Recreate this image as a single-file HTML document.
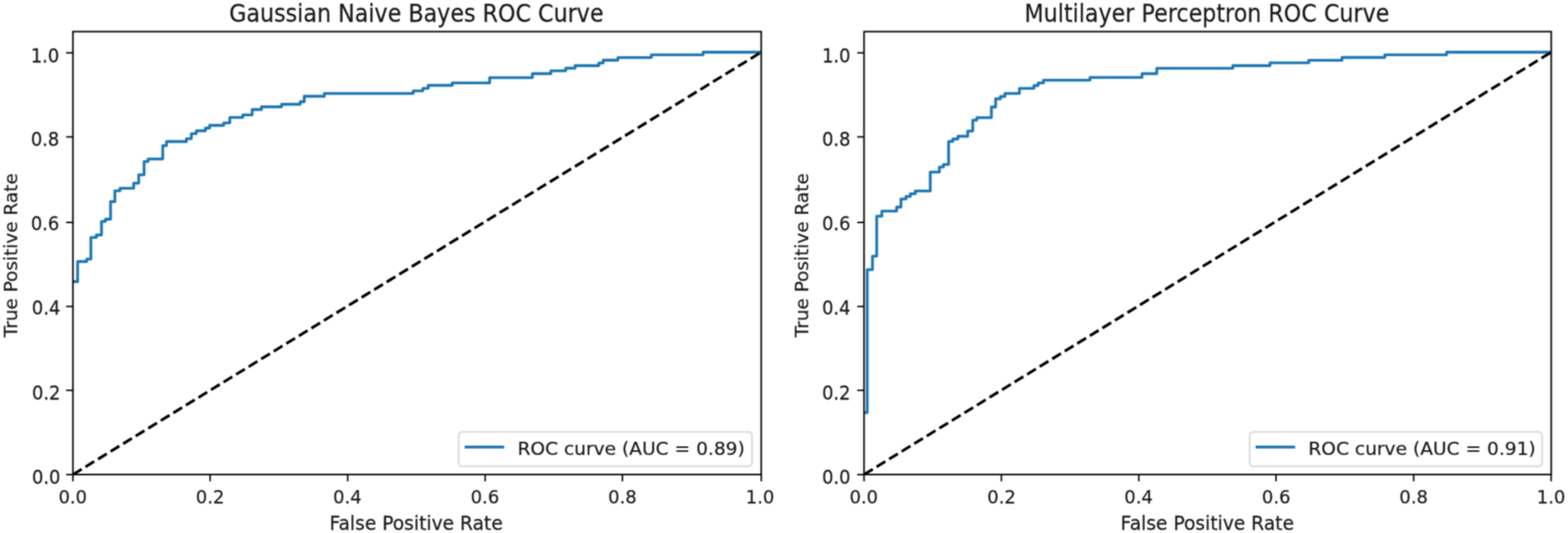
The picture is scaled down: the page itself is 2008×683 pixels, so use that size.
<!DOCTYPE html>
<html><head><meta charset="utf-8"><title>ROC Curves</title>
<style>
html,body{margin:0;padding:0;background:#fff;}
body{width:2008px;height:683px;overflow:hidden;}
svg{display:block;}

text{font-family:'DejaVu Sans', 'Liberation Sans', sans-serif;fill:#1a1a1a;}
</style></head><body>
<svg width="2008" height="683" viewBox="0 0 2008 683">
<defs><filter id="soft" color-interpolation-filters="sRGB" filterUnits="userSpaceOnUse" x="0" y="0" width="2008" height="683"><feConvolveMatrix order="3" kernelMatrix="1 2 1 2 4 2 1 2 1" divisor="16" edgeMode="none"/></filter></defs>
<g filter="url(#soft)">
<rect x="0" y="0" width="2008" height="683" fill="#fff"/>

<clipPath id="clip0"><rect x="93.4" y="40.5" width="881.4" height="567.6"/></clipPath>
<polyline clip-path="url(#clip0)" points="93.4,360.9 99.4,360.9 99.4,335.1 111.1,335.1 111.1,332.0 116.4,332.0 116.4,304.3 123.4,304.3 123.4,301.1 130.0,301.1 130.0,283.7 135.0,283.7 135.0,280.9 141.6,280.9 141.6,258.4 147.1,258.4 147.1,244.5 153.7,244.5 153.7,241.3 171.2,241.3 171.2,234.8 177.6,234.8 177.6,224.0 184.5,224.0 184.5,207.0 189.6,207.0 189.6,203.7 208.4,203.7 208.4,186.6 213.2,186.6 213.2,181.4 238.7,181.4 238.7,177.8 245.0,177.8 245.0,171.2 251.4,171.2 251.4,167.6 263.1,167.6 263.1,164.1 268.4,164.1 268.4,160.6 286.5,160.6 286.5,157.5 294.3,157.5 294.3,150.5 310.9,150.5 310.9,147.3 322.9,147.3 322.9,140.4 334.8,140.4 334.8,136.9 360.6,136.9 360.6,133.6 384.4,133.6 384.4,130.4 389.6,130.4 389.6,123.4 415.3,123.4 415.3,119.8 529.2,119.8 529.2,116.5 541.5,116.5 541.5,113.3 548.3,113.3 548.3,109.4 579.1,109.4 579.1,106.2 627.1,106.2 627.1,99.5 681.8,99.5 681.8,94.4 705.5,94.4 705.5,90.7 724.4,90.7 724.4,87.4 736.5,87.4 736.5,84.1 766.9,84.1 766.9,80.7 772.4,80.7 772.4,77.1 791.3,77.1 791.3,73.7 834.1,73.7 834.1,70.2 900.4,70.2 900.4,66.9 974.8,66.9" fill="none" stroke="#1f77b4" stroke-width="3.6" stroke-linejoin="round" stroke-linecap="butt"/>
<line clip-path="url(#clip0)" x1="93.4" y1="608.1" x2="974.8" y2="66.9" stroke="#000" stroke-width="3.6" stroke-dasharray="13.17 5.69" stroke-linecap="butt"/>
<rect x="93.4" y="40.5" width="881.4" height="567.6" fill="none" stroke="#000" stroke-width="2.0" stroke-linejoin="miter"/>
<line x1="93.40" y1="608.1" x2="93.40" y2="616.80" stroke="#000" stroke-width="1.9"/>
<text transform="translate(93.20,645.00)" font-size="23.0" text-anchor="middle" stroke="#1a1a1a" stroke-width="0.25">0.0</text>
<line x1="269.10" y1="608.1" x2="269.10" y2="616.80" stroke="#000" stroke-width="1.9"/>
<text transform="translate(269.10,645.00)" font-size="23.0" text-anchor="middle" stroke="#1a1a1a" stroke-width="0.25">0.2</text>
<line x1="445.30" y1="608.1" x2="445.30" y2="616.80" stroke="#000" stroke-width="1.9"/>
<text transform="translate(444.80,645.00)" font-size="23.0" text-anchor="middle" stroke="#1a1a1a" stroke-width="0.25">0.4</text>
<line x1="621.30" y1="608.1" x2="621.30" y2="616.80" stroke="#000" stroke-width="1.9"/>
<text transform="translate(621.00,645.00)" font-size="23.0" text-anchor="middle" stroke="#1a1a1a" stroke-width="0.25">0.6</text>
<line x1="797.10" y1="608.1" x2="797.10" y2="616.80" stroke="#000" stroke-width="1.9"/>
<text transform="translate(797.10,645.00)" font-size="23.0" text-anchor="middle" stroke="#1a1a1a" stroke-width="0.25">0.8</text>
<line x1="974.90" y1="608.1" x2="974.90" y2="616.80" stroke="#000" stroke-width="1.9"/>
<text transform="translate(973.35,645.00)" font-size="23.0" text-anchor="middle" stroke="#1a1a1a" stroke-width="0.25">1.0</text>
<line x1="84.70" y1="608.20" x2="93.4" y2="608.20" stroke="#000" stroke-width="1.9"/>
<text transform="translate(77.50,619.90) scale(1,1.0520)" font-size="23.0" text-anchor="end" stroke="#1a1a1a" stroke-width="0.25">0.0</text>
<line x1="84.70" y1="500.20" x2="93.4" y2="500.20" stroke="#000" stroke-width="1.9"/>
<text transform="translate(77.50,512.10) scale(1,1.0520)" font-size="23.0" text-anchor="end" stroke="#1a1a1a" stroke-width="0.25">0.2</text>
<line x1="84.70" y1="392.70" x2="93.4" y2="392.70" stroke="#000" stroke-width="1.9"/>
<text transform="translate(77.40,402.60) scale(1,1.0520)" font-size="23.0" text-anchor="end" stroke="#1a1a1a" stroke-width="0.25">0.4</text>
<line x1="84.70" y1="285.00" x2="93.4" y2="285.00" stroke="#000" stroke-width="1.9"/>
<text transform="translate(76.00,294.90) scale(1,1.0520)" font-size="23.0" text-anchor="end" stroke="#1a1a1a" stroke-width="0.25">0.6</text>
<line x1="84.70" y1="175.40" x2="93.4" y2="175.40" stroke="#000" stroke-width="1.9"/>
<text transform="translate(76.00,187.10) scale(1,1.0520)" font-size="23.0" text-anchor="end" stroke="#1a1a1a" stroke-width="0.25">0.8</text>
<line x1="84.70" y1="67.70" x2="93.4" y2="67.70" stroke="#000" stroke-width="1.9"/>
<text transform="translate(76.00,79.60) scale(1,1.0520)" font-size="23.0" text-anchor="end" stroke="#1a1a1a" stroke-width="0.25">1.0</text>
<text transform="translate(532.90,679.30) scale(1,1.0200)" font-size="23.9" text-anchor="middle" stroke="#1a1a1a" stroke-width="0.25">False Positive Rate</text>
<text transform="translate(22.00,327.15) rotate(-90)" font-size="23.6" text-anchor="middle" stroke="#1a1a1a" stroke-width="0.25">True Positive Rate</text>
<text transform="translate(533.20,27.90) scale(1,1.1000)" font-size="28.45" text-anchor="middle" stroke="#1a1a1a" stroke-width="0.25">Gaussian Naive Bayes ROC Curve</text>
<rect x="587.45" y="553.40" width="375.60" height="44.20" rx="4.7" ry="4.7" fill="#fff" fill-opacity="0.8" stroke="#cccccc" stroke-opacity="0.8" stroke-width="2.0"/>
<line x1="596.85" y1="572.9" x2="643.85" y2="572.9" stroke="#1f77b4" stroke-width="3.6" stroke-linecap="square"/>
<text transform="translate(662.65,582.80) scale(1,0.9500)" font-size="23.85" text-anchor="start" stroke="#1a1a1a" stroke-width="0.25">ROC curve (AUC = 0.89)</text>
<clipPath id="clip1"><rect x="1106.5" y="40.5" width="880.0" height="567.6"/></clipPath>
<polyline clip-path="url(#clip1)" points="1106.5,528.7 1110.6,528.7 1110.6,345.5 1117.3,345.5 1117.3,328.2 1122.7,328.2 1122.7,277.0 1129.3,277.0 1129.3,270.5 1148.2,270.5 1148.2,265.4 1153.8,265.4 1153.8,255.0 1160.2,255.0 1160.2,251.8 1165.8,251.8 1165.8,248.3 1172.2,248.3 1172.2,244.8 1191.3,244.8 1191.3,220.5 1203.0,220.5 1203.0,214.0 1208.2,214.0 1208.2,210.8 1214.8,210.8 1214.8,181.2 1220.2,181.2 1220.2,178.1 1226.7,178.1 1226.7,174.6 1239.2,174.6 1239.2,168.0 1245.7,168.0 1245.7,154.0 1250.9,154.0 1250.9,150.8 1269.6,150.8 1269.6,137.1 1275.0,137.1 1275.0,126.6 1281.2,126.6 1281.2,123.6 1286.9,123.6 1286.9,119.7 1305.5,119.7 1305.5,113.3 1324.1,113.3 1324.1,109.6 1329.5,109.6 1329.5,106.2 1336.3,106.2 1336.3,102.7 1395.9,102.7 1395.9,99.2 1462.5,99.2 1462.5,94.4 1481.4,94.4 1481.4,87.5 1578.8,87.5 1578.8,84.1 1626.4,84.1 1626.4,80.5 1676.0,80.5 1676.0,77.3 1718.6,77.3 1718.6,73.6 1773.4,73.6 1773.4,70.3 1852.5,70.3 1852.5,66.9 1986.5,66.9" fill="none" stroke="#1f77b4" stroke-width="3.6" stroke-linejoin="round" stroke-linecap="butt"/>
<line clip-path="url(#clip1)" x1="1106.5" y1="608.1" x2="1986.5" y2="66.9" stroke="#000" stroke-width="3.6" stroke-dasharray="13.17 5.69" stroke-linecap="butt"/>
<rect x="1106.5" y="40.5" width="880.0" height="567.6" fill="none" stroke="#000" stroke-width="2.0" stroke-linejoin="miter"/>
<line x1="1106.50" y1="608.1" x2="1106.50" y2="616.80" stroke="#000" stroke-width="1.9"/>
<text transform="translate(1106.20,645.00)" font-size="23.0" text-anchor="middle" stroke="#1a1a1a" stroke-width="0.25">0.0</text>
<line x1="1282.40" y1="608.1" x2="1282.40" y2="616.80" stroke="#000" stroke-width="1.9"/>
<text transform="translate(1282.60,645.00)" font-size="23.0" text-anchor="middle" stroke="#1a1a1a" stroke-width="0.25">0.2</text>
<line x1="1458.40" y1="608.1" x2="1458.40" y2="616.80" stroke="#000" stroke-width="1.9"/>
<text transform="translate(1458.10,645.00)" font-size="23.0" text-anchor="middle" stroke="#1a1a1a" stroke-width="0.25">0.4</text>
<line x1="1634.10" y1="608.1" x2="1634.10" y2="616.80" stroke="#000" stroke-width="1.9"/>
<text transform="translate(1634.30,645.00)" font-size="23.0" text-anchor="middle" stroke="#1a1a1a" stroke-width="0.25">0.6</text>
<line x1="1810.40" y1="608.1" x2="1810.40" y2="616.80" stroke="#000" stroke-width="1.9"/>
<text transform="translate(1810.40,645.00)" font-size="23.0" text-anchor="middle" stroke="#1a1a1a" stroke-width="0.25">0.8</text>
<line x1="1986.40" y1="608.1" x2="1986.40" y2="616.80" stroke="#000" stroke-width="1.9"/>
<text transform="translate(1986.30,645.00)" font-size="23.0" text-anchor="middle" stroke="#1a1a1a" stroke-width="0.25">1.0</text>
<line x1="1097.80" y1="608.20" x2="1106.5" y2="608.20" stroke="#000" stroke-width="1.9"/>
<text transform="translate(1089.20,619.90) scale(1,1.0520)" font-size="23.0" text-anchor="end" stroke="#1a1a1a" stroke-width="0.25">0.0</text>
<line x1="1097.80" y1="500.20" x2="1106.5" y2="500.20" stroke="#000" stroke-width="1.9"/>
<text transform="translate(1089.20,512.10) scale(1,1.0520)" font-size="23.0" text-anchor="end" stroke="#1a1a1a" stroke-width="0.25">0.2</text>
<line x1="1097.80" y1="392.70" x2="1106.5" y2="392.70" stroke="#000" stroke-width="1.9"/>
<text transform="translate(1089.20,402.60) scale(1,1.0520)" font-size="23.0" text-anchor="end" stroke="#1a1a1a" stroke-width="0.25">0.4</text>
<line x1="1097.80" y1="285.00" x2="1106.5" y2="285.00" stroke="#000" stroke-width="1.9"/>
<text transform="translate(1089.20,294.90) scale(1,1.0520)" font-size="23.0" text-anchor="end" stroke="#1a1a1a" stroke-width="0.25">0.6</text>
<line x1="1097.80" y1="175.40" x2="1106.5" y2="175.40" stroke="#000" stroke-width="1.9"/>
<text transform="translate(1089.20,187.10) scale(1,1.0520)" font-size="23.0" text-anchor="end" stroke="#1a1a1a" stroke-width="0.25">0.8</text>
<line x1="1097.80" y1="67.70" x2="1106.5" y2="67.70" stroke="#000" stroke-width="1.9"/>
<text transform="translate(1089.20,79.60) scale(1,1.0520)" font-size="23.0" text-anchor="end" stroke="#1a1a1a" stroke-width="0.25">1.0</text>
<text transform="translate(1546.10,679.30) scale(1,1.0200)" font-size="23.9" text-anchor="middle" stroke="#1a1a1a" stroke-width="0.25">False Positive Rate</text>
<text transform="translate(1035.10,327.15) rotate(-90)" font-size="23.6" text-anchor="middle" stroke="#1a1a1a" stroke-width="0.25">True Positive Rate</text>
<text transform="translate(1545.60,27.90) scale(1,1.1000)" font-size="28.45" text-anchor="middle" stroke="#1a1a1a" stroke-width="0.25">Multilayer Perceptron ROC Curve</text>
<rect x="1600.35" y="553.40" width="374.40" height="44.20" rx="4.7" ry="4.7" fill="#fff" fill-opacity="0.8" stroke="#cccccc" stroke-opacity="0.8" stroke-width="2.0"/>
<line x1="1609.75" y1="572.9" x2="1656.75" y2="572.9" stroke="#1f77b4" stroke-width="3.6" stroke-linecap="square"/>
<text transform="translate(1675.55,582.80) scale(1,0.9500)" font-size="23.85" text-anchor="start" stroke="#1a1a1a" stroke-width="0.25">ROC curve (AUC = 0.91)</text>
</g></svg>
</body></html>
